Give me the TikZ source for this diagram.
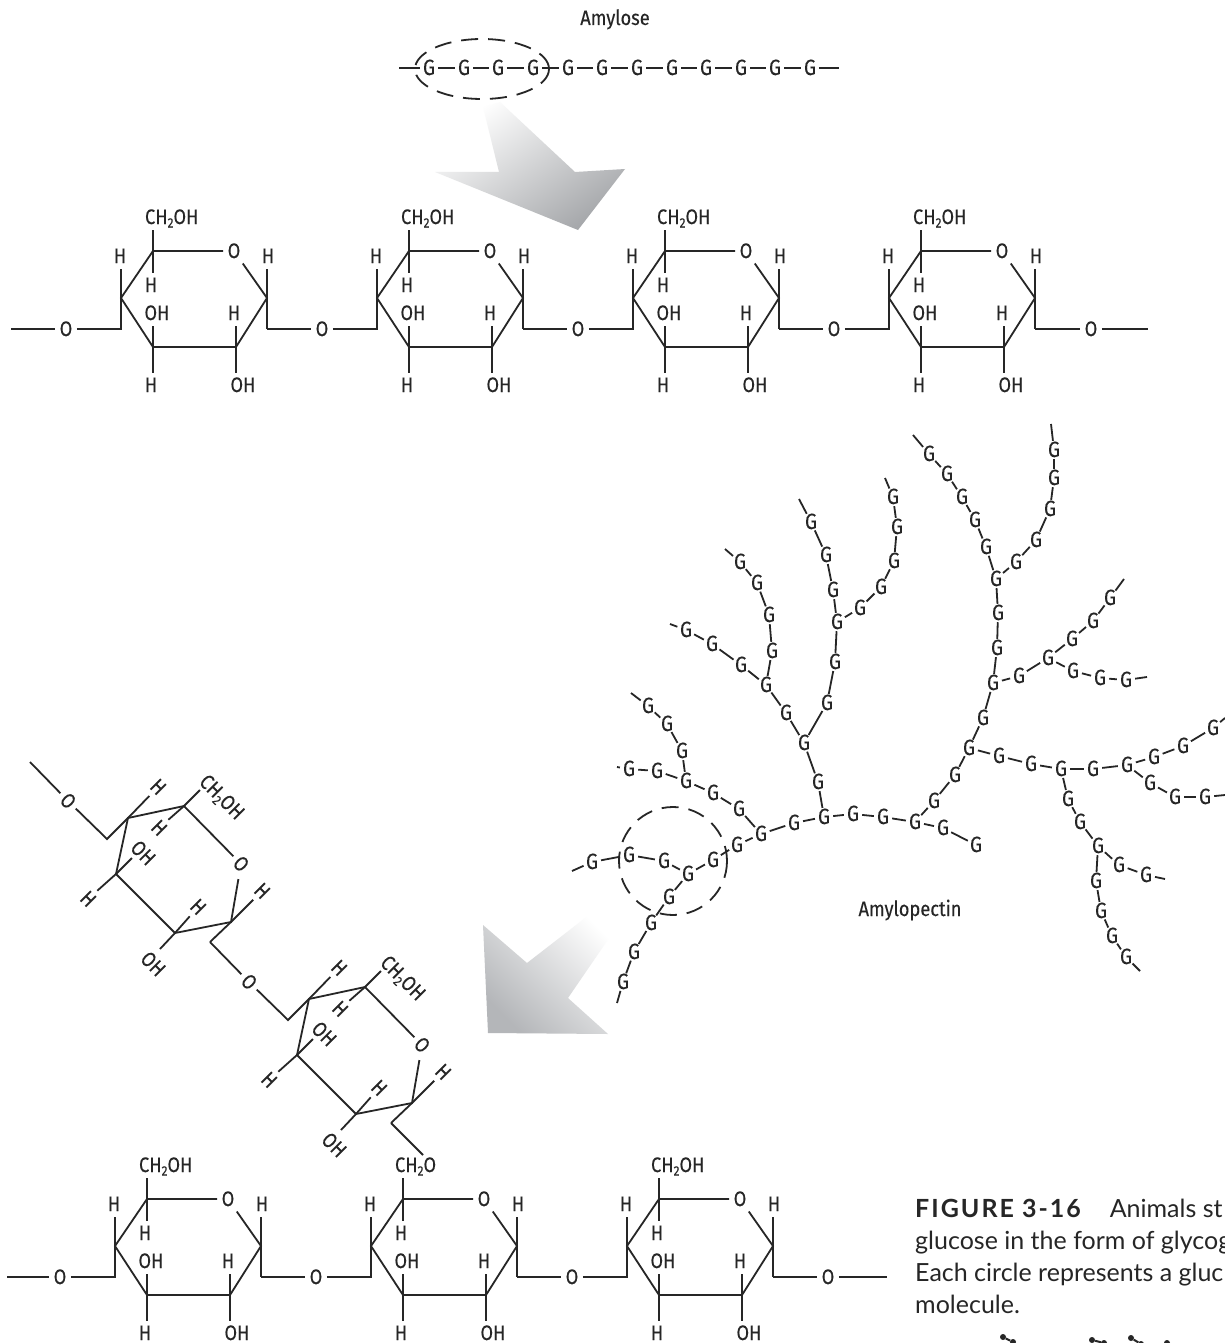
\documentclass[tikz,border=0pt]{standalone}
\usepackage{fontspec}
\setmainfont{Fira Sans}
\newfontfamily\labfont[FakeStretch=0.87,FakeBold=0.2]{Fira Sans}
\newfontfamily\capfont{Lato}
\definecolor{ink}{HTML}{262626}
\definecolor{arrowa}{HTML}{A6A8AB}
\definecolor{arrowb}{HTML}{B4B6B9}
\newcommand{\subtwo}{\raisebox{-3.5pt}{\fontsize{13.5}{13.5}\selectfont 2}}
\tikzset{
  bond/.style={line width=1.8pt,draw=ink,line join=miter},
  lab/.style={font=\labfont\fontsize{21}{23}\selectfont,text=ink,text height=14pt,text depth=0pt,inner xsep=4.5pt,inner ysep=5.5pt,outer sep=0pt},
  rlab/.style={lab,rotate=-45},
  gnode/.style={circle,font=\labfont\fontsize{22}{24}\selectfont,text=ink,text height=14pt,text depth=0pt,inner sep=0pt,minimum size=18pt,outer sep=0pt},
  selring/.style={line width=1.8pt,draw=ink,dash pattern=on 17pt off 10pt},
  caption/.style={font=\capfont\fontsize{25}{27}\selectfont,text=ink,anchor=base west,inner sep=0pt},
  blob/.style={circle,fill=ink,inner sep=0pt,minimum size=6pt}
}
% horizontal glucose ring: prefix, dx, dy, text above
\newcommand{\flatring}[4]{%
\begin{scope}[shift={(#2,#3)}]
  \coordinate (#1c5) at (153,251);
  \coordinate (#1c1) at (267,298);
  \coordinate (#1c2) at (236,347);
  \coordinate (#1c3) at (153,347);
  \coordinate (#1c4) at (121,298);
  \coordinate (#1lf) at (121,329);
  \coordinate (#1rf) at (267,329);
  \node[lab] (#1o) at (234,251) {O};
  \node[lab] (#1l) at (66,329) {O};
  \node[lab,anchor=west] (#1top) at (140.5,217) {#4};
  \node[lab] (#1ha) at (151,285) {H};
  \node[lab] (#1hb) at (120,256) {H};
  \node[lab] (#1hc) at (157,313) {OH};
  \node[lab] (#1hd) at (151,385) {H};
  \node[lab] (#1he) at (234,313) {H};
  \node[lab] (#1hf) at (243,385) {OH};
  \node[lab] (#1hg) at (268,256) {H};
  \draw[bond] (#1c5) -- (#1o) -- (#1c1) -- (#1c2) -- (#1c3) -- (#1c4) -- (#1c5);
  \draw[bond] (#1c5) -- (#1c5 |- #1top.south);
  \draw[bond] (#1c5) -- (#1c5 |- #1ha.north);
  \draw[bond] (#1c4) -- (#1c4 |- #1hb.south);
  \draw[bond] (#1c3) -- (#1c3 |- #1hc.south);
  \draw[bond] (#1c3) -- (#1c3 |- #1hd.north);
  \draw[bond] (#1c2) -- (#1c2 |- #1he.south);
  \draw[bond] (#1c2) -- (#1c2 |- #1hf.north);
  \draw[bond] (#1c1) -- (#1c1 |- #1hg.south);
  \draw[bond] (#1c1) -- (#1rf);
  \draw[bond] (#1l) -- (#1lf) -- (#1c4);
\end{scope}}
% tilted glucose ring: prefix, dx, dy
\newcommand{\tiltring}[3]{%
\begin{scope}[shift={(#2,#3)}]
  \coordinate (#1c5) at (184,806);
  \coordinate (#1c1) at (231,922);
  \coordinate (#1c2) at (175,933);
  \coordinate (#1c3) at (116,874);
  \coordinate (#1c4) at (128,818);
  \coordinate (#1lf) at (107,839);
  \coordinate (#1rf) at (210,942);
  \coordinate (#1ea) at (200,790);
  \coordinate (#1eb) at (132,858);
  \coordinate (#1ec) at (160,949);
  \node[rlab] (#1o) at (241,864) {O};
  \node[rlab] (#1l) at (68,801) {O};
  \node[rlab] (#1top) at (222,797) {CH\subtwo OH};
  \node[rlab] (#1ha) at (159,828) {H};
  \node[rlab] (#1hb) at (158,787) {H};
  \node[rlab] (#1hc) at (143,853) {OH};
  \node[rlab] (#1hd) at (88,899) {H};
  \node[rlab] (#1he) at (198,907) {H};
  \node[rlab] (#1hf) at (153,964) {OH};
  \node[rlab] (#1hg) at (262,891) {H};
  \draw[bond] (#1c5) -- (#1o) -- (#1c1) -- (#1c2) -- (#1c3) -- (#1c4) -- (#1c5);
  \draw[bond] (#1c5) -- (#1ea);
  \draw[bond] (#1c5) -- (#1ha);
  \draw[bond] (#1c4) -- (#1hb);
  \draw[bond] (#1c3) -- (#1eb);
  \draw[bond] (#1c3) -- (#1hd);
  \draw[bond] (#1c2) -- (#1he);
  \draw[bond] (#1c2) -- (#1ec);
  \draw[bond] (#1c1) -- (#1hg);
  \draw[bond] (#1c1) -- (#1rf);
  \draw[bond] (#1l) -- (#1lf) -- (#1c4);
\end{scope}}
\begin{document}
\begin{tikzpicture}[x=1pt,y=-1pt]
\useasboundingbox (0,0) rectangle (1225,1343);
\fill[white] (0,0) rectangle (1225,1343);

% pointers
\path[shade,shading=axis,top color=white,bottom color=arrowa,shading angle=35]
  (483,107) -- (500,102) -- (575,172) -- (625,169) -- (578,230) -- (435,172) -- (499,172) -- cycle;
\path[shade,shading=axis,top color=white,bottom color=arrowb,shading angle=-45]
  (483,925) -- (527,963) -- (598,908) -- (618,925) -- (568,998) -- (608,1034) -- (488,1033) -- cycle;

% amylose chain
\node[lab] (amylose) at (615,18) {Amylose};
\coordinate (af1) at (399,68);
\coordinate (af2) at (839,68);
\foreach \n/\x in {1/429,2/464,3/498,4/533,5/568,6/602,7/637,8/672,9/706,10/741,11/775,12/810}
  \node[gnode] (a\n) at (\x,68) {G};
\foreach \p/\q in {af1/a1,a1/a2,a2/a3,a3/a4,a4/a5,a5/a6,a6/a7,a7/a8,a8/a9,a9/a10,a10/a11,a11/a12,a12/af2}
  \draw[bond] (\p) -- (\q);
\draw[selring] (482,69) ellipse [x radius=67,y radius=30];

% top row of rings
\flatring{p}{0}{0}{CH\subtwo OH}
\flatring{q}{256}{0}{CH\subtwo OH}
\flatring{r}{512}{0}{CH\subtwo OH}
\flatring{s}{768}{0}{CH\subtwo OH}
\node[lab] (send) at (1091,329) {O};
\coordinate (pfree) at (11,329);
\coordinate (sfree) at (1148,329);
\draw[bond] (pfree) -- (pl);
\draw[bond] (prf) -- (ql);
\draw[bond] (qrf) -- (rl);
\draw[bond] (rrf) -- (sl);
\draw[bond] (srf) -- (send);
\draw[bond] (send) -- (sfree);

% amylopectin
\node[lab] (amylopectin) at (910,909) {Amylopectin};
\foreach \n/\x/\y in {1/592/862,2/629/855,3/664/861,4/688/874,5/713/860,6/737/845,7/761/834,8/794/823,9/824/817,10/853/814,
  11/883/817,12/915/822,13/943/828,14/976/845,15/669/897,16/651/923,17/634/952,18/623/982,19/739/809,20/713/793,
  21/686/781,22/657/771,23/629/769,24/682/751,25/667/724,26/648/706,27/818/782,28/804/743,29/786/713,30/766/685,
  31/827/703,32/835/662,33/741/665,34/712/644,35/686/630,36/772/651,37/769/615,38/757/583,39/740/562,40/837/622,
  41/833/590,42/826/555,43/811/522,44/860/608,45/881/587,46/894/561,47/897/527,48/893/497,49/934/801,50/955/775,
  51/969/748,52/983/718,53/993/683,54/997/648,55/998/613,56/996/579,57/986/547,58/975/520,59/962/497,60/947/474,
  61/929/454,62/1016/562,63/1036/540,64/1050/509,65/1054/478,66/1054/450,67/1019/676,68/1048/658,69/1072/639,70/1093/621,
  71/1110/598,72/1073/671,73/1100/678,74/1126/680,75/999/756,76/1031/764,77/1061/769,78/1093/769,79/1127/765,80/1154/757,
  81/1183/746,82/1213/728,83/1150/783,84/1175/797,85/1205/797,86/1068/799,87/1080/822,88/1098/846,89/1119/865,90/1146/875,
  91/1096/881,92/1101/911,93/1112/936,94/1126/957}
  \node[gnode] (g\n) at (\x,\y) {G};
\foreach \n/\x/\y in {1/572/871,2/617/1003,3/617/767,4/631/693,5/670/624,6/725/549,7/799/499,8/885/478,9/913/435,10/1051/424,
  11/1124/579,12/1147/677,13/1225/718,14/1225/795,15/1165/879,16/1140/971}
  \coordinate (f\n) at (\x,\y);
\foreach \p/\q in {f1/g1,g1/g2,g2/g3,g3/g4,g4/g5,g5/g6,g6/g7,g7/g8,g8/g9,g9/g10,g10/g11,g11/g12,g12/g13,g13/g14,
  g4/g15,g15/g16,g16/g17,g17/g18,g18/f2,g7/g19,g19/g20,g20/g21,g21/g22,g22/g23,g23/f3,g21/g24,g24/g25,g25/g26,g26/f4,
  g9/g27,g27/g28,g28/g29,g29/g30,g28/g31,g31/g32,g30/g33,g33/g34,g34/g35,g35/f5,g30/g36,g36/g37,g37/g38,g38/g39,g39/f6,
  g32/g40,g40/g41,g41/g42,g42/g43,g43/f7,g40/g44,g44/g45,g45/g46,g46/g47,g47/g48,g48/f8,
  g12/g49,g49/g50,g50/g51,g51/g52,g52/g53,g53/g54,g54/g55,g55/g56,g56/g57,g57/g58,g58/g59,g59/g60,g60/g61,g61/f9,
  g56/g62,g62/g63,g63/g64,g64/g65,g65/g66,g66/f10,g53/g67,g67/g68,g68/g69,g69/g70,g70/g71,g71/f11,g68/g72,g72/g73,g73/g74,g74/f12,
  g51/g75,g75/g76,g76/g77,g77/g78,g78/g79,g79/g80,g80/g81,g81/g82,g82/f13,g79/g83,g83/g84,g84/g85,g85/f14,
  g77/g86,g86/g87,g87/g88,g88/g89,g89/g90,g90/f15,g88/g91,g91/g92,g92/g93,g93/g94,g94/f16}
  \draw[bond] (\p) -- (\q);
\draw[selring] (673,861) circle [radius=54];

% tilted rings
\tiltring{t}{0}{0}
\tiltring{u}{181}{181}
\coordinate (tfree) at (30,762);
\coordinate (uend) at (423,1155);
\draw[bond] (tfree) -- (tl);
\draw[bond] (trf) -- (ul);
\draw[bond] (urf) -- (uend);

% bottom row of rings
\flatring{v}{-6}{948}{CH\subtwo OH}
\flatring{w}{250}{948}{CH\subtwo O}
\flatring{x}{506}{948}{CH\subtwo OH}
\node[lab] (xend) at (828,1277) {O};
\coordinate (vfree) at (7,1277);
\coordinate (xfree) at (887,1277);
\draw[bond] (vfree) -- (vl);
\draw[bond] (vrf) -- (wl);
\draw[bond] (wrf) -- (xl);
\draw[bond] (xrf) -- (xend);
\draw[bond] (xend) -- (xfree);

% caption
\node[caption] (cap1) at (915,1217) {{\bfseries\addfontfeature{LetterSpace=8}FIGURE 3-16}\hspace{29pt}Animals st};
\node[caption] (cap2) at (915,1249) {glucose in the form of glycog};
\node[caption] (cap3) at (915,1281) {Each circle represents a gluc};
\node[caption] (cap4) at (915,1313) {molecule.};

% ball-and-stick fragments cut by the lower edge
\node[blob] (b1) at (1003,1337) {};
\node[blob] (b2) at (1013,1342) {};
\node[blob] (b3) at (1092,1340) {};
\node[blob] (b4) at (1104,1343) {};
\node[blob] (b5) at (1131,1338) {};
\node[blob] (b6) at (1141,1344) {};
\node[blob] (b7) at (1167,1343) {};
\draw[bond,line width=2pt] (b1) -- (b2);
\draw[bond,line width=2pt] (b3) -- (b4);
\draw[bond,line width=2pt] (b5) -- (b6);
\end{tikzpicture}
\end{document}
